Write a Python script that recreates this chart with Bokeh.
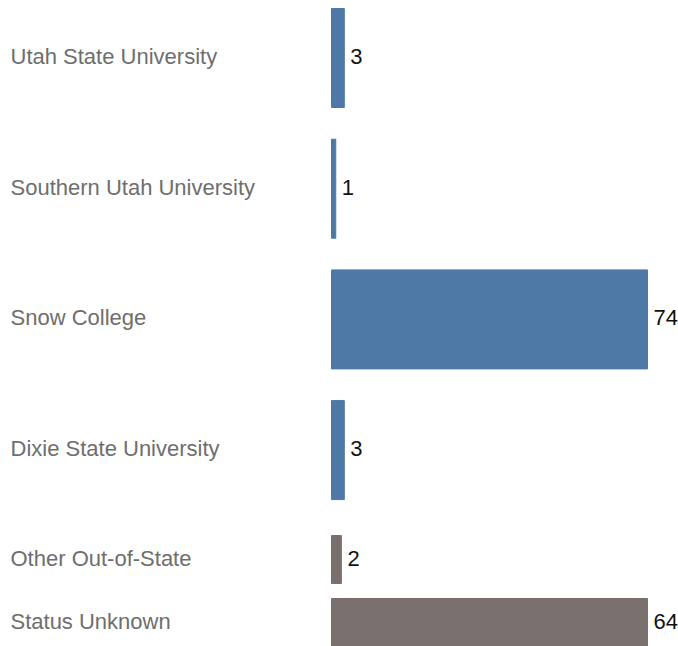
from bokeh.plotting import figure
from bokeh.models import ColumnDataSource, LabelSet, Range1d
from bokeh.layouts import column
from bokeh.embed import file_html
from bokeh.resources import INLINE
from bokeh.core.properties import value

# Data
top_categories = ["Utah State University", "Southern Utah University", "Snow College", "Dixie State University"]
top_values = [3, 1, 74, 3]
bottom_categories = ["Other Out-of-State", "Status Unknown"]
bottom_values = [2, 64]

BLUE = "#4e79a7"
GREY = "#79706e"
FONT = "Liberation Sans"
W = 678
BAR_LEFT = 331.0
BAR_MAX = 647.0


def make_panel(categories, values, color, height, first_center_px, pitch_px, bar_px):
    src = ColumnDataSource(dict(
        y=list(range(len(categories))),
        v=values,
        name=categories,
        vtxt=[str(v) for v in values],
    ))
    ppu = (BAR_MAX - BAR_LEFT) / max(values)
    x_start = -BAR_LEFT / ppu
    x_end = (W - BAR_LEFT) / ppu
    y_top = -first_center_px / pitch_px
    y_bottom = y_top + height / pitch_px
    p = figure(width=W, height=height, output_backend="svg", toolbar_location=None,
               x_range=Range1d(x_start, x_end), y_range=Range1d(y_bottom, y_top),
               min_border=0, min_border_left=0, min_border_right=0,
               min_border_top=0, min_border_bottom=0)
    p.axis.visible = False
    p.grid.visible = False
    p.outline_line_color = None
    p.background_fill_color = "white"
    p.border_fill_color = "white"
    p.hbar(y="y", left=0, right="v", height=bar_px / pitch_px, color=color, source=src)
    p.add_layout(LabelSet(x=10, y="y", x_units="screen", text="name", source=src,
                          y_offset=1.5,
                          text_font=value(FONT), text_font_size=value("22px"),
                          text_color=value("#6e6e6e"),
                          text_baseline=value("middle"), text_align=value("left")))
    p.add_layout(LabelSet(x="v", y="y", text="vtxt", source=src, x_offset=6,
                          y_offset=1.5,
                          text_font=value(FONT), text_font_size=value("22px"),
                          text_color=value("#111111"),
                          text_baseline=value("middle"), text_align=value("left")))
    return p


top = make_panel(top_categories, top_values, BLUE, 517,
                 first_center_px=57.5, pitch_px=130.7, bar_px=99)
bottom = make_panel(bottom_categories, bottom_values, GREY, 129,
                    first_center_px=42, pitch_px=63.0, bar_px=48)

layout = column(top, bottom, spacing=0)
open("out.html", "w").write(file_html(layout, INLINE))
